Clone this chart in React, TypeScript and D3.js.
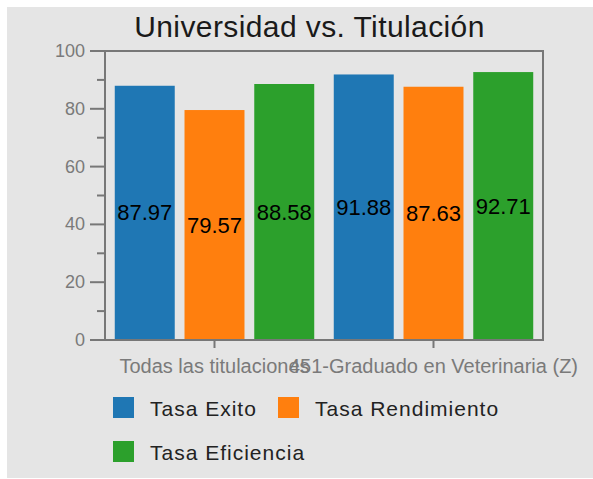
import React from "react";
import * as d3 from "d3";

const categories = ["Todas las titulaciones", "451-Graduado en Veterinaria (Z)"];
const seriesNames = ["Tasa Exito", "Tasa Rendimiento", "Tasa Eficiencia"];
const seriesColors = ["#1f77b4", "#ff7f0e", "#2ca02c"];
const tasaExito = [87.97, 91.88];
const tasaRendimiento = [79.57, 87.63];
const tasaEficiencia = [88.58, 92.71];
const yTicks = [0, 20, 40, 60, 80, 100];

const W = 593;
const H = 479;
const FONT = "'Liberation Sans', Arial, sans-serif";

const App: React.FC = () => {
  const left = 105;
  const right = 543;
  const top = 51;
  const bottom = 340;
  const axisColor = "#777";

  const values = [tasaExito, tasaRendimiento, tasaEficiencia];

  const x0 = d3.scaleBand<string>().domain(categories).range([left, right]).padding(0);
  const x1 = d3
    .scaleBand<string>()
    .domain(seriesNames)
    .range([0, x0.bandwidth()])
    .padding(0.14);
  const y = d3.scaleLinear().domain([0, 100]).range([bottom, top]);
  const minorTicks = d3.range(10, 100, 20);

  return (
    <svg
      width={W}
      height={H}
      style={{ position: "absolute", left: 0, top: 0, fontFamily: FONT }}
    >
      <rect x={7} y={7} width={W - 7} height={471} fill="#e5e5e5" />
      <text
        x={309.5}
        y={37}
        textAnchor="middle"
        fontSize={30}
        letterSpacing={0.4}
        fill="#1a1a1a"
      >
        Universidad vs. Titulación
      </text>

      {/* bars */}
      {categories.map((cat, ci) => (
        <g key={cat} transform={`translate(${x0(cat)},0)`}>
          {seriesNames.map((s, si) => {
            const v = values[si][ci];
            const bx = x1(s) || 0;
            return (
              <g key={s}>
                <rect
                  x={bx}
                  y={y(v)}
                  width={x1.bandwidth()}
                  height={bottom - y(v)}
                  fill={seriesColors[si]}
                />
                <text
                  x={bx + x1.bandwidth() / 2}
                  y={(y(v) + bottom) / 2}
                  textAnchor="middle"
                  dominantBaseline="central"
                  fontSize={22}
                  fill="#000"
                >
                  {v.toFixed(2)}
                </text>
              </g>
            );
          })}
        </g>
      ))}

      {/* frame */}
      <rect
        x={left}
        y={top}
        width={right - left}
        height={bottom - top}
        fill="none"
        stroke={axisColor}
        strokeWidth={2}
      />

      {/* y axis */}
      {yTicks.map((t) => (
        <g key={t}>
          <line x1={left - 15} x2={left} y1={y(t)} y2={y(t)} stroke={axisColor} strokeWidth={2} />
          <text
            x={85}
            y={y(t)}
            textAnchor="end"
            dominantBaseline="central"
            fontSize={18}
            fill="#7a7a7a"
          >
            {t}
          </text>
        </g>
      ))}
      {minorTicks.map((t) => (
        <line key={t} x1={left - 8} x2={left} y1={y(t)} y2={y(t)} stroke={axisColor} strokeWidth={2} />
      ))}

      {/* x axis */}
      {categories.map((cat) => {
        const cx = (x0(cat) || 0) + x0.bandwidth() / 2;
        return (
          <g key={cat}>
            <line x1={cx} x2={cx} y1={bottom} y2={bottom + 8} stroke={axisColor} strokeWidth={2} />
            <text x={cx} y={373} textAnchor="middle" fontSize={20} fill="#7a7a7a">
              {cat}
            </text>
          </g>
        );
      })}

      {/* legend */}
      {seriesNames.map((s, i) => {
        const pos = [
          [113, 397],
          [278, 397],
          [113, 441],
        ][i];
        return (
          <g key={s} transform={`translate(${pos[0]},${pos[1]})`}>
            <rect width={21} height={21} fill={seriesColors[i]} />
            <text x={37} y={19} fontSize={21} letterSpacing={1} fill="#222">
              {s}
            </text>
          </g>
        );
      })}
    </svg>
  );
};

export default App;
